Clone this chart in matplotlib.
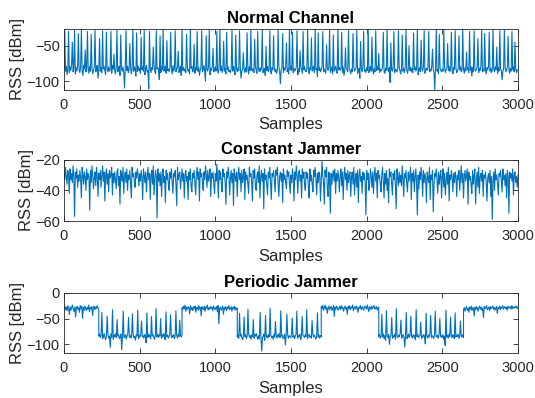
import numpy as np
import matplotlib.pyplot as plt

plt.rcParams['font.family'] = ['Liberation Sans', 'DejaVu Sans']

# RSS (dB below 0 dBm), one value about every 5 samples
normal_rss = [-int(v) for v in """
83 29 86 79 91 84 30 88 80 85 77 45 87 82 28 90 81 86 79 33
84 88 80 27 85 92 78 83 56 87 81 30 84 89 79 86 34 82 90 85
80 28 87 83 78 96 84 40 86 81 88 29 83 79 85 91 31 82 87 80
86 84 30 89 78 83 62 85 90 81 28 87 84 79 92 35 83 86 80 88
110 82 29 85 79 88 84 47 81 90 83 27 86 80 84 93 32 87 79 85
82 89 38 84 80 86 28 91 83 78 87 85 111 30 82 88 81 84 52 79
86 90 29 83 81 85 98 36 88 80 84 27 86 82 79 89 43 85 83 87
80 31 84 90 78 86 82 29 87 83 81 58 88 84 79 92 28 85 81 86
83 88 34 80 86 84 90 27 82 79 87 85 48 89 81 84 30 86 80 92
85 81 29 87 83 78 88 100 36 84 86 80 28 91 82 85 79 54 87 83
80 86 30 84 89 81 27 85 79 88 83 44 86 82 90 31 84 80 87 85
88 82 28 86 79 84 91 35 83 87 81 85 29 80 96 86 84 60 82 88
81 87 32 83 90 79 85 28 84 86 82 88 41 80 85 89 30 83 87 81
86 80 27 88 84 82 92 51 85 79 87 83 29 86 90 81 84 36 82 87
83 89 85 28 80 86 104 84 82 33 88 81 85 79 46 87 83 90 27 84
79 85 31 88 82 86 84 80 29 91 83 87 57 81 85 89 30 84 80 86
87 82 28 85 90 81 84 39 86 83 79 88 27 84 82 94 32 85 81 87
84 80 30 87 83 86 89 49 82 85 81 28 88 84 80 90 35 86 83 79
86 89 27 84 81 85 83 31 88 80 92 86 53 82 84 87 29 81 85 90
83 87 33 80 86 84 81 28 89 85 82 96 44 83 87 80 30 86 84 88
81 85 27 88 83 79 86 38 84 90 82 87 29 85 80 84 61 88 83 86
84 80 31 86 89 82 85 28 83 87 81 102 46 84 86 80 30 88 83 85
87 83 29 81 85 90 84 35 86 82 88 80 27 84 89 83 50 85 81 87
82 88 32 84 80 86 83 28 91 85 81 87 42 83 86 80 29 89 84 82
85 81 30 87 83 86 80 55 84 88 112 82 27 86 83 90 34 81 85 87
83 86 28 80 88 84 82 47 85 79 87 83 31 86 90 81 84 29 82 88
86 82 36 84 80 87 85 27 83 89 81 86 59 84 82 88 30 85 80 93
81 87 29 83 86 84 80 40 88 82 85 79 28 87 83 86 33 84 90 81
84 80 31 86 82 88 85 27 83 87 80 84 52 89 81 86 29 83 85 98
86 83 28 81 87 84 80 37 85 89 82 86 30 84 80 87 45 83 88 84
85
""".split()]

constant_rss = [-int(v) for v in """
28 33 25 31 36 27 30 42 26 33 29 35 24 31 57 28 32 26 38 30
34 27 32 45 25 30 36 28 31 40 26 33 29 31 53 27 35 24 30 39
32 28 37 25 31 44 29 33 27 38 30 24 34 28 47 31 26 36 29 41
27 32 30 25 43 29 35 28 33 39 28 26 37 31 49 27 30 34 25 42
31 28 35 26 40 30 33 27 36 45 25 31 29 34 38 28 32 26 30 37
29 34 27 32 46 26 30 35 28 41 31 25 33 29 46 30 27 36 24 43
33 27 31 58 26 34 29 37 28 44 30 26 35 31 48 27 33 29 36 40
28 32 26 35 42 29 31 27 37 50 25 33 30 28 39 32 26 34 29 45
30 27 34 31 46 28 33 26 38 41 29 32 27 35 43 30 25 33 28 47
26 31 29 35 40 28 33 24 30 38 27 34 31 26 44 29 32 28 36 42
29 34 23 31 45 27 33 28 36 41 26 31 29 35 49 28 32 25 30 43
32 27 35 29 50 26 31 34 28 44 30 25 33 29 41 27 35 31 26 46
28 33 30 36 42 25 31 29 34 47 27 32 26 38 40 30 28 35 24 45
31 27 34 29 52 26 33 30 37 43 28 32 25 35 46 29 31 27 33 41
27 30 25 36 44 31 28 34 29 48 26 33 30 35 39 27 31 28 36 42
30 35 26 32 47 28 33 24 31 42 29 27 34 30 45 26 32 28 37 40
28 32 29 38 45 26 34 30 36 41 27 31 25 33 43 29 35 28 30 47
33 21 30 35 49 27 31 25 39 44 28 32 55 29 36 30 27 34 26 42
29 34 27 32 41 30 26 37 28 46 31 25 33 29 40 27 35 30 28 44
31 28 36 25 43 33 29 38 27 48 30 26 34 31 42 28 33 29 35 56
27 33 29 40 35 26 31 38 28 42 30 25 34 29 45 27 32 30 36 41
30 25 34 45 29 36 27 40 32 48 26 31 28 35 43 29 33 27 37 52
26 31 37 28 35 30 37 24 33 44 29 32 27 36 41 28 34 30 25 46
29 34 27 41 31 26 36 56 30 39 28 33 25 31 44 27 35 29 32 48
28 32 35 25 46 30 33 27 54 37 29 31 26 34 42 28 36 30 27 45
31 26 38 29 43 34 28 36 25 47 30 33 27 32 41 29 35 28 31 44
30 33 27 40 32 24 35 29 45 31 27 34 30 26 49 28 33 31 36 42
27 36 30 26 49 33 28 38 25 42 31 29 34 27 44 30 32 28 35 47
32 29 35 27 44 31 59 34 28 40 26 33 30 36 43 29 31 27 34 41
26 33 30 37 29 45 27 31 55 28 32 29 34 26 43 30 28 35 31 38
30
""".split()]

# periodic jammer: switching points (samples) and RSS within each part
periodic_bounds = [0, 230, 780, 1145, 1700, 2080, 2640, 3000]
periodic_parts_txt = [
    """30 26 33 28 35 25 31 42 27 34 29 24 32 36 28 47 30 26 33 29 38 25 31
       27 50 29 34 26 30 35 28 32 24 37 29 31 27 44 30 26 33 28 31 25 29 32""",
    """84 80 87 82 38 89 85 79 86 91 83 45 81 88 84 106 80 86 33 90 82 85 79
       87 52 84 81 89 86 80 110 83 36 87 85 81 90 84 79 48 86 82 88 83 41 80
       87 85 92 81 84 34 89 82 86 79 55 85 83 88 81 84 97 39 87 80 85 82 89
       46 84 81 86 90 83 31 85 80 87 82 84 50 88 81 86 79 83 91 37 85 82 88
       84 80 43 87 83 86 81 89 84 35 82 88 80 85 53 83 86 81""",
    """29 33 26 31 24 36 28 32 27 30 41 25 33 29 35 27 31 26 38 30 28 34 25
       32 29 45 27 31 33 26 36 28 30 24 34 29 32 27 31 28 35 26 30 33 29 27
       37 25 60 31 28 34 30 26 42 29 32 27 35 28 31 25 33 30 27 36 29 31 26
       34 28 32 30""",
    """86 82 88 40 84 80 87 91 83 47 85 81 89 84 32 80 86 83 90 82 85 52 88
       81 84 79 86 90 83 89 38 85 113 87 84 80 92 44 86 83 88 81 85 30 82 87
       84 90 80 86 56 83 88 81 85 79 87 35 84 82 89 86 80 101 84 42 81 88 83
       85 87 80 49 86 82 89 84 81 36 88 83 85 80 91 86 46 82 84 87 81 85 33
       89 83 80 86 84 88 54 81 85 82 87 90 84 39 86 81 88 83 85""",
    """27 31 25 34 29 24 32 28 40 30 26 33 29 27 35 31 25 46 28 32 26 30 34
       29 27 33 25 31 28 36 30 26 32 29 42 27 31 25 33 28 30 24 35 29 27 32
       26 31 38 28 30 25 33 29 27 34 31 26 28 32 24 30 37 27 29 33 26 31 28
       25 32 30 27 34 29 28""",
    """85 81 88 84 42 86 80 89 83 92 35 84 87 81 100 85 82 48 88 83 86 80 90
       31 84 87 82 85 79 53 88 84 81 86 105 83 38 89 85 80 87 82 46 84 88 81
       86 83 91 33 85 80 87 84 82 57 89 83 86 81 85 99 40 84 88 82 86 80 44
       87 83 85 89 81 36 84 86 82 88 80 50 85 83 87 81 90 84 102 34 86 82 88
       80 85 47 83 87 81 84 89 39 86 82 85 80 88 84 55 83 86 81 87""",
    """33 29 36 31 27 34 30 38 28 32 26 35 29 31 45 28 33 27 30 36 29 26 32
       28 34 30 48 27 31 29 25 33 30 28 35 27 31 29 26 32 28 34 30 27 40 29
       31 26 33 28 30 25 32 29 27 31 28 34 26 30 29 27 32 25 31 28 30 27 29
       26 31 28""",
]
periodic_parts = [[-int(v) for v in t.split()] for t in periodic_parts_txt]

blue = '#0072BD'
grey = '#262626'


def draw_panel(rect, x, y, title, ylim, yticks):
    ax = fig.add_axes(rect)
    ax.plot(x, y, color=blue, lw=0.8)
    ax.set_xlim(0, 3000)
    ax.set_ylim(*ylim)
    ax.set_xticks([0, 500, 1000, 1500, 2000, 2500, 3000])
    ax.set_yticks(yticks)
    ax.set_title(title, fontsize=12, fontweight='bold', pad=4)
    ax.set_xlabel('Samples', fontsize=12, color=grey, labelpad=4)
    ax.set_ylabel('RSS [dBm]', fontsize=12, color=grey, labelpad=1)
    ax.tick_params(direction='in', length=3.5, width=0.6, labelsize=10.5,
                   colors=grey, top=True, right=True)
    ax.tick_params(axis='x', pad=6)
    ax.tick_params(axis='y', pad=3)
    for s in ax.spines.values():
        s.set_color(grey)
        s.set_linewidth(0.6)
    return ax


fig = plt.figure(figsize=(5.35, 3.98), dpi=100)

x_normal = np.linspace(0, 3000, len(normal_rss))
draw_panel([0.1196, 0.775, 0.8486, 0.153], x_normal, normal_rss,
           'Normal Channel', (-112, -26), [-100, -50])

x_const = np.linspace(0, 3000, len(constant_rss))
draw_panel([0.1196, 0.4447, 0.8486, 0.154], x_const, constant_rss,
           'Constant Jammer', (-60, -20), [-60, -40, -20])

px, py = [], []
for k, part in enumerate(periodic_parts):
    px.extend(np.linspace(periodic_bounds[k], periodic_bounds[k + 1], len(part)))
    py.extend(part)
draw_panel([0.1196, 0.1138, 0.8486, 0.151], px, py,
           'Periodic Jammer', (-116, 0), [-100, -50, 0])

fig.savefig('out.png', dpi=100)
